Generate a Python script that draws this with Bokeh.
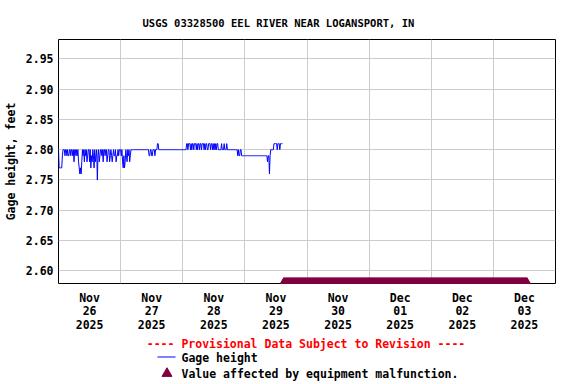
import numpy as np
import pandas as pd
from bokeh.plotting import figure
from bokeh.layouts import column
from bokeh.models import (FixedTicker, PrintfTickFormatter, Range1d,
                          ColumnDataSource)
from bokeh.core.properties import value
from bokeh.embed import file_html
from bokeh.resources import INLINE

# ---------------- data ----------------
title_text = "USGS 03328500 EEL RIVER NEAR LOGANSPORT, IN"
y_label = "Gage height, feet"
provisional_text = "---- Provisional Data Subject to Revision ----"
series_label = "Gage height"
malf_label = "Value affected by equipment malfunction."

series_start = "2025-11-26 00:00"   # 15-minute gage readings start
nov26 = [2.80, 2.77, 2.77, 2.77, 2.77, 2.77, 2.79, 2.80, 2.80, 2.80,
         2.79, 2.80, 2.80, 2.79, 2.80, 2.79, 2.79, 2.80, 2.80, 2.79,
         2.80, 2.80, 2.79, 2.80, 2.78, 2.80, 2.80, 2.79, 2.80, 2.79,
         2.80, 2.78, 2.77, 2.76, 2.77, 2.76, 2.78, 2.80, 2.79, 2.80,
         2.78, 2.80, 2.79, 2.80, 2.78, 2.79, 2.80, 2.80, 2.78, 2.80,
         2.77, 2.79, 2.78, 2.80, 2.79, 2.77, 2.80, 2.78, 2.79, 2.80,
         2.75, 2.79, 2.80, 2.78, 2.79, 2.80, 2.80, 2.79, 2.80, 2.78,
         2.80, 2.80, 2.79, 2.80, 2.80, 2.78, 2.79, 2.80, 2.80, 2.78,
         2.79, 2.80, 2.79, 2.78, 2.79, 2.80, 2.79, 2.79, 2.80, 2.78,
         2.79, 2.79, 2.80, 2.79, 2.80, 2.80]
nov27 = ([2.80, 2.79, 2.80, 2.78, 2.77, 2.79, 2.77, 2.78, 2.80, 2.79,
          2.78, 2.80, 2.79, 2.80, 2.78, 2.79, 2.80]
         + [2.80] * 27 + [2.79] * 2 + [2.80] * 2 + [2.79] * 2 + [2.80] * 3
         + [2.79] + [2.80] * 3 + [2.81] * 2 + [2.80] * 37)
nov28 = ([2.80] * 6
         + [2.81, 2.81, 2.80, 2.81, 2.81, 2.81, 2.80, 2.81, 2.80, 2.81,
            2.81, 2.80, 2.81, 2.81, 2.81, 2.80, 2.81, 2.80, 2.81, 2.81,
            2.80, 2.81, 2.81, 2.80, 2.81, 2.81, 2.81, 2.80, 2.81, 2.80,
            2.81, 2.81, 2.80, 2.80, 2.81, 2.81, 2.81, 2.80, 2.81, 2.81,
            2.80, 2.81, 2.80, 2.81, 2.80]
         + [2.81, 2.80, 2.81, 2.81, 2.80, 2.80, 2.80, 2.80, 2.80, 2.81,
            2.80, 2.80, 2.80, 2.81, 2.80, 2.80, 2.80, 2.81]
         + [2.80] * 16
         + [2.79, 2.80, 2.79, 2.79, 2.80, 2.80, 2.79, 2.79]
         + [2.79] * 3)
nov29 = ([2.79] * 35 + [2.78, 2.79, 2.79, 2.76, 2.79]
         + [2.80] * 5 + [2.81] * 5 + [2.80] + [2.81] * 3 + [2.80] + [2.81] * 4)

malf_start = "2025-11-29 15:00"     # equipment-malfunction flags, every 15 min
malf_end = "2025-12-03 13:00"

x_start, x_end = "2025-11-26", "2025-12-04"
y_start, y_end = 2.579, 2.982
y_ticks = [2.60, 2.65, 2.70, 2.75, 2.80, 2.85, 2.90, 2.95]
tick_days = ["2025-11-26", "2025-11-27", "2025-11-28", "2025-11-29",
             "2025-11-30", "2025-12-01", "2025-12-02", "2025-12-03"]

# ---------------- build ----------------
FONT = "DejaVu Sans Mono"
LINE_COLOR = "#0000FF"
MALF_COLOR = "#800040"
gage = nov26 + nov27 + nov28 + nov29
gage_t = pd.date_range(series_start, periods=len(gage), freq="15min")
malf_t = pd.date_range(malf_start, malf_end, freq="15min")

def ms(ts):
    return float(pd.Timestamp(ts).value // 10**6)

src = ColumnDataSource(dict(t=gage_t, h=gage))
msrc = ColumnDataSource(dict(t=malf_t, h=[y_start] * len(malf_t)))

p = figure(width=576, height=334, output_backend="svg", toolbar_location=None,
           x_axis_type="datetime",
           x_range=Range1d(pd.Timestamp(x_start), pd.Timestamp(x_end)),
           y_range=Range1d(y_start, y_end),
           min_border_left=58, min_border_right=21, min_border_top=39,
           min_border_bottom=50)

p.title.text = title_text
p.title.align = "left"
p.title.offset = 84
p.title.text_font = FONT
p.title.text_font_size = "10.5px"
p.title.text_font_style = "bold"
p.title.text_color = "black"
p.title.standoff = 22

p.outline_line_color = "black"
p.outline_line_alpha = 1
p.outline_line_width = 1
p.background_fill_color = "white"
p.border_fill_color = "white"

noon_ticks = [ms(pd.Timestamp(d) + pd.Timedelta(hours=12)) for d in tick_days]
mid_ticks = [ms(pd.Timestamp(d)) for d in tick_days[1:]]
p.xaxis.ticker = FixedTicker(ticks=noon_ticks)
p.xaxis.major_label_overrides = {
    ms(pd.Timestamp(d) + pd.Timedelta(hours=12)):
        pd.Timestamp(d).strftime("%b\n%d\n%Y") for d in tick_days}
p.xgrid.ticker = FixedTicker(ticks=mid_ticks)
p.yaxis.ticker = FixedTicker(ticks=y_ticks)
p.ygrid.ticker = FixedTicker(ticks=y_ticks)
p.yaxis.formatter = PrintfTickFormatter(format="%.2f")

for ax in (p.xaxis[0], p.yaxis[0]):
    ax.axis_line_color = None
    ax.major_tick_line_color = None
    ax.minor_tick_line_color = None
    ax.major_tick_out = 0
    ax.major_tick_in = 0
    ax.minor_tick_out = 0
    ax.minor_tick_in = 0
    ax.major_label_text_font = FONT
    ax.major_label_text_font_style = "bold"
    ax.major_label_text_font_size = "11.5px"
    ax.major_label_text_color = "black"
p.xaxis.major_label_standoff = 7
p.xaxis.major_label_text_line_height = 0.97
p.yaxis.major_label_standoff = 5
p.yaxis.axis_label = y_label
p.yaxis.axis_label_text_font = FONT
p.yaxis.axis_label_text_font_style = "bold"
p.yaxis.axis_label_text_font_size = "11.5px"
p.yaxis.axis_label_text_color = "black"
p.yaxis.axis_label_standoff = 5

for g in (p.xgrid[0], p.ygrid[0]):
    g.grid_line_color = "#cccccc"
    g.grid_line_width = 1
    g.grid_line_alpha = 1

p.line("t", "h", source=src, line_color=LINE_COLOR, line_width=1)
p.scatter("t", "h", source=msrc, marker="triangle", size=10,
          fill_color=MALF_COLOR, line_color=MALF_COLOR)

# ---------------- legend strip (below the chart) ----------------
# Its frame is aligned with the chart frame by the column layout, so the
# x range is given in page pixels across that frame (58 .. 555).
leg = figure(width=576, height=50, output_backend="svg", toolbar_location=None,
             x_range=Range1d(58, 555), y_range=Range1d(50, 0),
             x_axis_location=None, y_axis_location=None,
             min_border=0, outline_line_color=None)
leg.grid.visible = False
leg.background_fill_color = "white"
leg.border_fill_color = "white"

txt = dict(text_font=value(FONT), text_font_style="bold",
           text_font_size="11.5px", text_baseline="middle")
leg.text(x=[305.5], y=[9], text=[provisional_text], text_color="red",
         text_align="center", **txt)
leg.line(x=[157, 175], y=[22.5, 22.5], line_color=LINE_COLOR, line_width=1)
leg.text(x=[181], y=[23], text=[series_label], text_color="black",
         text_align="left", **txt)
leg.scatter(x=[166.5], y=[39], marker="triangle", size=10,
            fill_color=MALF_COLOR, line_color=MALF_COLOR)
leg.text(x=[181], y=[39], text=[malf_label], text_color="black",
         text_align="left", **txt)

open("out.html", "w").write(file_html(column(p, leg), INLINE))
